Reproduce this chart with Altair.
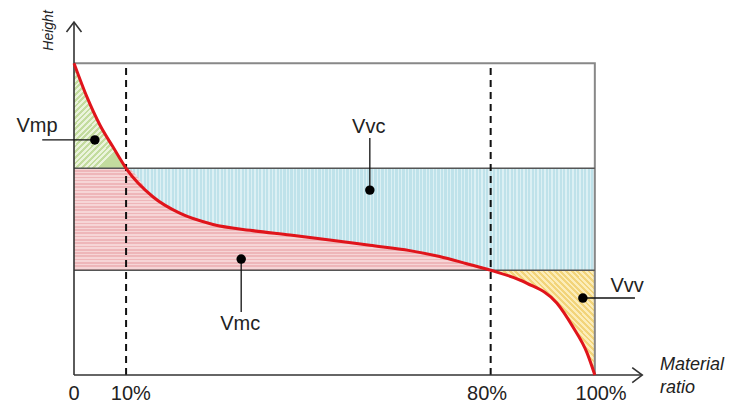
import altair as alt
import pandas as pd

# ---- data (x: material ratio %, y: height, arbitrary units 0..100) ----
curve_x = [0, 2.5, 5.0, 7.5, 10, 15.2, 20.3, 26.7, 33.8, 41.5, 49.1, 56.8, 64.5, 70.2, 75.4, 80, 86.9, 92.7, 95.8, 98.5, 100]
curve_y = [100, 89.1, 80.1, 73.1, 66.3, 57.1, 51.9, 48.3, 46.4, 44.9, 43.3, 41.6, 39.9, 38.0, 35.7, 33.6, 29.5, 23.1, 15.4, 7.1, 0]

upper_level = 66.3   # height at 10 % material ratio
lower_level = 33.6   # height at 80 % material ratio
mr1 = 10
mr2 = 80

tick_values = [0, 10.9, 79.3, 101.2]
tick_labels = ["0", "10%", "80%", "100%"]

region_labels = ["Vmp", "Vvc", "Vmc", "Vvv"]
label_x = [-7.1, 56.6, 31.9, 106.2]
label_y = [77.9, 77.6, 14.4, 26.6]
dot_x = [4.0, 56.8, 32.1, 97.7]
dot_y = [75.4, 59.3, 37.2, 24.7]
lead_x2 = [-6.1, 56.8, 32.1, 107.7]
lead_y2 = [75.4, 76.0, 20.2, 24.7]

x_arrow_end = 109.1
y_arrow_end = 113.2

FONT = "Liberation Sans"

curve = pd.DataFrame({"x": curve_x, "c": curve_y})

xs = alt.Scale(domain=[0, 120], nice=False, zero=False)
ys = alt.Scale(domain=[-8, 117.7], nice=False, zero=False)


def X(f="x"):
    return alt.X(f"{f}:Q", scale=xs, axis=None)


def Y(f="y"):
    return alt.Y(f"{f}:Q", scale=ys, axis=None)


def stripes(base, line, n, x1, y1, x2, y2, frac=0.45):
    """Striped fill (hatching) built as a hard-stop linear gradient."""
    stops = []
    for i in range(n):
        a = i / n
        b = (i + frac) / n
        c = (i + 1) / n
        stops += [alt.GradientStop(offset=a, color=base), alt.GradientStop(offset=b, color=base),
                  alt.GradientStop(offset=b, color=line), alt.GradientStop(offset=c, color=line)]
    return alt.LinearGradient(gradient="linear", stops=stops, x1=x1, y1=y1, x2=x2, y2=y2)


# region tables derived from the curve
green = curve[curve.x <= mr1].assign(y=lambda d: d.c, y2=upper_level)
pink = curve[curve.x <= mr2].assign(y=lambda d: d.c.clip(upper=upper_level), y2=lower_level)
blue = curve[curve.x >= mr1].assign(y=upper_level, y2=lambda d: d.c.clip(lower=lower_level))
yellow = curve[curve.x >= mr2].assign(y=lambda d: d.c, y2=lower_level)


def area(df, fill):
    return alt.Chart(df).mark_area(color=fill, interpolate="monotone", opacity=1).encode(
        x=X(), y=Y(), y2="y2:Q")


layers = [
    area(blue, stripes("#bfe2ea", "#dcf0f4", 134, 0, 0, 1, 0, 0.6)),
    area(pink, stripes("#f6d5d6", "#eeb6b9", 31, 0, 0, 0, 1, 0.5)),
    area(green, stripes("#ebf4dc", "#c3dc9e", 23, 0, 0, 0.5, 1, 0.5)),
    area(yellow, stripes("#fcedb9", "#f2d47a", 37, 0, 1, 1, 0, 0.5)),
]

# frame (top and right), horizontal levels
frame = pd.DataFrame({"x": [0, 100, 100], "y": [100, 100, 0]})
layers.append(alt.Chart(frame).mark_line(color="#888888", strokeWidth=2).encode(x=X(), y=Y(), order="x:Q"))
levels = pd.DataFrame({"x": [0, 0], "x2": [100, 100], "y": [upper_level, lower_level]})
layers.append(alt.Chart(levels).mark_rule(color="#555555", strokeWidth=1.5).encode(x=X(), x2="x2:Q", y=Y()))

# dashed verticals
dash = pd.DataFrame({"x": [mr1, mr2], "y": [0, 0], "y2": [100, 100]})
layers.append(alt.Chart(dash).mark_rule(color="#111111", strokeWidth=2, strokeDash=[7, 5]).encode(
    x=X(), y=Y(), y2="y2:Q"))

# axes
axes = pd.DataFrame({"x": [0, 0], "x2": [x_arrow_end, 0], "y": [0, 0], "y2": [0, y_arrow_end]})
layers.append(alt.Chart(axes).mark_rule(color="#333333", strokeWidth=1.6).encode(
    x=X(), x2="x2:Q", y=Y(), y2="y2:Q"))
arr_up = pd.DataFrame({"x": [0], "y": [y_arrow_end]})
layers.append(alt.Chart(arr_up).mark_point(shape="M-0.75,1L0,0L0.75,1", size=400, filled=False,
                                           color="#333333", strokeWidth=1.6, opacity=1).encode(x=X(), y=Y()))
arr_r = pd.DataFrame({"x": [x_arrow_end], "y": [0]})
layers.append(alt.Chart(arr_r).mark_point(shape="M-1,-0.75L0,0L-1,0.75", size=400, filled=False,
                                          color="#333333", strokeWidth=1.6, opacity=1).encode(x=X(), y=Y()))

# red curve
layers.append(alt.Chart(curve).mark_line(color="#e0141b", strokeWidth=3, interpolate="monotone").encode(
    x=X(), y=Y("c"), order="x:Q"))

# leaders, dots, labels
lab = pd.DataFrame({"t": region_labels, "lx": label_x, "ly": label_y, "dx": dot_x, "dy": dot_y,
                    "ex": lead_x2, "ey": lead_y2})
layers.append(alt.Chart(lab).mark_rule(color="#111111", strokeWidth=1.3).encode(
    x=X("dx"), x2="ex:Q", y=Y("dy"), y2="ey:Q"))
layers.append(alt.Chart(lab).mark_point(filled=True, size=90, color="#000000", opacity=1).encode(
    x=X("dx"), y=Y("dy")))
layers.append(alt.Chart(lab).mark_text(font=FONT, fontSize=20, color="#222222", align="center",
                                       baseline="alphabetic").encode(x=X("lx"), y=Y("ly"), text="t:N"))

ticks = pd.DataFrame({"x": tick_values, "y": [-7.9] * 4, "t": tick_labels})
layers.append(alt.Chart(ticks).mark_text(font=FONT, fontSize=20, color="#222222", align="center",
                                         baseline="alphabetic").encode(x=X(), y=Y(), text="t:N"))

ax_titles = pd.DataFrame({"x": [112.5, 112.5], "y": [1.6, -5.8], "t": ["Material", "ratio"]})
layers.append(alt.Chart(ax_titles).mark_text(font=FONT, fontSize=18, fontStyle="italic", color="#222222",
                                             align="left", baseline="alphabetic").encode(x=X(), y=Y(), text="t:N"))
h_title = pd.DataFrame({"x": [-4.0], "y": [110.5], "t": ["Height"]})
layers.append(alt.Chart(h_title).mark_text(font=FONT, fontSize=14, fontStyle="italic", color="#222222",
                                           align="center", baseline="alphabetic", angle=270).encode(
    x=X(), y=Y(), text="t:N"))

chart = alt.layer(*layers).properties(
    width=625, height=392,
    background="white",
    autosize=alt.AutoSizeParams(type="none"),
    padding={"left": 66, "top": 0, "right": 26, "bottom": 5},
).configure_view(strokeWidth=0)

chart.save("out.html", embed_options={"renderer": "svg", "actions": False})
